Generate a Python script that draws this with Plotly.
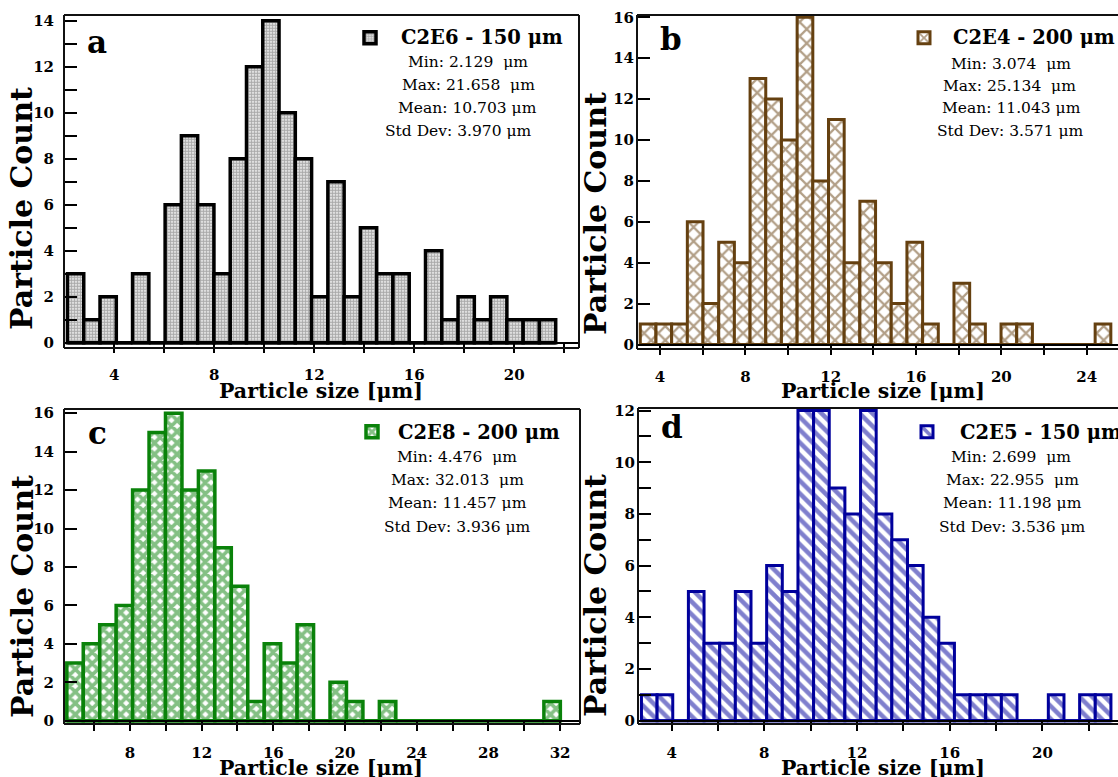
import plotly.graph_objects as go

W, H = 1118, 777

# Sample names and size statistics (μm)
names = ["C2E6 - 150 μm", "C2E4 - 200 μm", "C2E8 - 200 μm", "C2E5 - 150 μm"]
size_min = [2.129, 3.074, 4.476, 2.699]
size_max = [21.658, 25.134, 32.013, 22.955]
size_mean = [10.703, 11.043, 11.457, 11.198]
size_std = [3.970, 3.571, 3.936, 3.536]

# Histogram counts, 30 equal bins between min and max
counts_a = [3, 1, 2, 0, 3, 0, 6, 9, 6, 3, 8, 12, 14, 10, 8, 2, 7, 2, 5, 3,
            3, 0, 4, 1, 2, 1, 2, 1, 1, 1]
counts_b = [1, 1, 1, 6, 2, 5, 4, 13, 12, 10, 16, 8, 11, 4, 7, 4, 2, 5, 1, 0,
            3, 1, 0, 1, 1, 0, 0, 0, 0, 1]
counts_c = [3, 4, 5, 6, 12, 15, 16, 12, 13, 9, 7, 1, 4, 3, 5, 0, 2, 1, 0, 1,
            0, 0, 0, 0, 0, 0, 0, 0, 0, 1]
counts_d = [1, 1, 0, 5, 3, 3, 5, 3, 6, 5, 12, 12, 9, 8, 12, 8, 7, 6, 4, 3,
            1, 1, 1, 1, 0, 0, 1, 0, 1, 1]
all_counts = [counts_a, counts_b, counts_c, counts_d]
N_BINS = 30

# Axis ticks
xticks = [list(range(4, 23, 2)), list(range(4, 27, 2)), list(range(6, 33, 2)), list(range(4, 23, 2))]
yticks = [list(range(0, 15)), list(range(0, 17, 2)), list(range(0, 17, 2)), list(range(0, 13))]

FONT = "DejaVu Serif"

# Panel geometry (pixels) and styling
panels = [
    dict(letter="a", color="black", lw=3.5,
         pattern=dict(shape=".", fgcolor="#555555", bgcolor="white", size=3, solidity=0.7),
         box=(64, 579, 15, 348), xr=(1.99, 22.59), yr=(-0.23, 14.25), y0px=342.7,
         letter_xy=(97, 42), ylab_xy=(22, 209), xlab_xy=(321, 391),
         sym_xy=(370, 38), title_x=399, stats_x=[468, 468, 467, 458], stats_y=[62, 85, 108, 131],
         ystand=10, right_edge=True),
    dict(letter="b", color="#654010", lw=3,
         pattern=dict(shape="x", fgcolor="#654010", bgcolor="white", size=10, solidity=0.4),
         box=(637, 1118, 15, 349), xr=(2.92, 25.47), yr=(-0.22, 16.11), y0px=344.5,
         letter_xy=(671, 39), ylab_xy=(595, 214), xlab_xy=(883, 391),
         sym_xy=(924, 38), title_x=951, stats_x=[1011, 1009, 1011, 1010], stats_y=[64, 86, 108, 131],
         ystand=3, right_edge=False),
    dict(letter="c", color="#0a820a", lw=3.5,
         pattern=dict(shape="x", fgcolor="#0a820a", bgcolor="white", size=8, solidity=0.7),
         box=(64, 580, 409, 724), xr=(4.32, 33.11), yr=(-0.17, 16.22), y0px=720.7,
         letter_xy=(97, 433), ylab_xy=(22, 597), xlab_xy=(321, 768),
         sym_xy=(372, 432), title_x=396, stats_x=[457, 457, 457, 457], stats_y=[457, 480, 503, 527],
         ystand=10, right_edge=True),
    dict(letter="d", color="#00009c", lw=3,
         pattern=dict(shape="\\", fgcolor="#00009c", bgcolor="white", size=9, solidity=0.5),
         box=(638, 1118, 408, 724), xr=(2.55, 23.26), yr=(-0.13, 12.1), y0px=720.7,
         letter_xy=(672, 427), ylab_xy=(595, 596), xlab_xy=(883, 768),
         sym_xy=(927, 432), title_x=958, stats_x=[1011, 1012, 1012, 1012], stats_y=[457, 480, 503, 527],
         ystand=3, right_edge=False),
]


def px(x):
    return x / W


def py(y):
    return 1 - y / H


fig = go.Figure()
layout = dict(width=W, height=H, margin=dict(l=0, r=0, t=0, b=0, autoexpand=False),
              paper_bgcolor="white", plot_bgcolor="white", showlegend=True,
              annotations=[], shapes=[])

for i, (p, counts) in enumerate(zip(panels, all_counts)):
    k = "" if i == 0 else str(i + 1)
    xa, ya = "x" + k, "y" + k
    legend_id = "legend" + k
    lo, hi = size_min[i], size_max[i]
    w = (hi - lo) / N_BINS
    centers = [lo + (j + 0.5) * w for j in range(N_BINS)]

    # zero-level outline of the histogram
    fig.add_trace(go.Scatter(x=[lo, hi], y=[0, 0], mode="lines",
                             line=dict(color=p["color"], width=p["lw"]),
                             xaxis=xa, yaxis=ya, showlegend=False, hoverinfo="skip"))
    # legend shows only the swatch; the sample name is written as an annotation
    fig.add_trace(go.Bar(x=centers, y=counts, width=w, name=" ",
                         marker=dict(color="white", pattern=p["pattern"],
                                     line=dict(color=p["color"], width=p["lw"])),
                         xaxis=xa, yaxis=ya, legend=legend_id))

    x0, x1, y0, y1 = p["box"]
    xt = xticks[i]
    yt = yticks[i]
    layout["xaxis" + k] = dict(
        domain=[px(x0), px(x1)], range=list(p["xr"]), anchor="free",
        position=py(p["y0px"]), showline=True, linecolor="black", linewidth=2,
        showgrid=False, zeroline=False, ticks="outside", ticklen=9, tickwidth=2,
        tickcolor="black", tickmode="array", tickvals=xt, automargin=False,
        ticktext=[str(v) if v % 4 == 0 else "" for v in xt],
        ticklabelstandoff=9,
        tickfont=dict(family=FONT, size=15, color="black", weight="bold"))
    layout["yaxis" + k] = dict(
        domain=[py(y1), py(y0)], range=list(p["yr"]), anchor="free", position=px(x0),
        showline=False, showgrid=False, zeroline=False, ticks="inside", ticklen=12,
        tickwidth=2, tickcolor="black", tickmode="array", tickvals=yt, automargin=False,
        ticktext=[str(v) if v % 2 == 0 else "" for v in yt],
        ticklabelstandoff=p["ystand"],
        tickfont=dict(family=FONT, size=15, color="black", weight="bold"))

    # panel frame
    sides = [(x0, y0, x1, y0), (x0, y0, x0, y1), (x0, y1, x1, y1)]
    if p["right_edge"]:
        sides.append((x1, y0, x1, y1))
    for (ax0, ay0, ax1, ay1) in sides:
        layout["shapes"].append(dict(type="line", xref="paper", yref="paper",
                                     x0=px(ax0), y0=py(ay0), x1=px(ax1), y1=py(ay1),
                                     line=dict(color="#111111", width=2)))

    sx, sy = p["sym_xy"]
    layout[legend_id] = dict(x=px(sx - 20), y=py(sy), xanchor="left", yanchor="middle",
                             bgcolor="rgba(0,0,0,0)", borderwidth=0, itemwidth=30,
                             font=dict(family=FONT, size=19, color="black"))

    ann = layout["annotations"]
    ann.append(dict(text=names[i], x=px(p["title_x"]), y=py(sy), xref="paper", yref="paper",
                    showarrow=False, xanchor="left", yanchor="middle",
                    font=dict(family=FONT, size=19.5, color="black", weight="bold")))
    tx, ty = p["letter_xy"]
    ann.append(dict(text=p["letter"], x=px(tx), y=py(ty), xref="paper", yref="paper",
                    showarrow=False, xanchor="center", yanchor="middle",
                    font=dict(family=FONT, size=31, color="black", weight="bold")))
    tx, ty = p["ylab_xy"]
    ann.append(dict(text="Particle Count", x=px(tx), y=py(ty), xref="paper", yref="paper",
                    showarrow=False, textangle=-90, xanchor="center", yanchor="middle",
                    font=dict(family=FONT, size=30, color="black", weight="bold")))
    tx, ty = p["xlab_xy"]
    ann.append(dict(text="Particle size [μm]", x=px(tx), y=py(ty), xref="paper", yref="paper",
                    showarrow=False, xanchor="center", yanchor="middle",
                    font=dict(family=FONT, size=20.5, color="black", weight="bold")))

    lines = [f"Min: {size_min[i]:.3f} \u00a0μm",
             f"Max: {size_max[i]:.3f} \u00a0μm",
             f"Mean: {size_mean[i]:.3f} μm",
             f"Std Dev: {size_std[i]:.3f} μm"]
    for text, cx, cy in zip(lines, p["stats_x"], p["stats_y"]):
        ann.append(dict(text=text, x=px(cx), y=py(cy), xref="paper", yref="paper",
                        showarrow=False, xanchor="center", yanchor="middle",
                        font=dict(family=FONT, size=15.5, color="black")))

fig.update_layout(**layout)
fig.write_html("out.html")
